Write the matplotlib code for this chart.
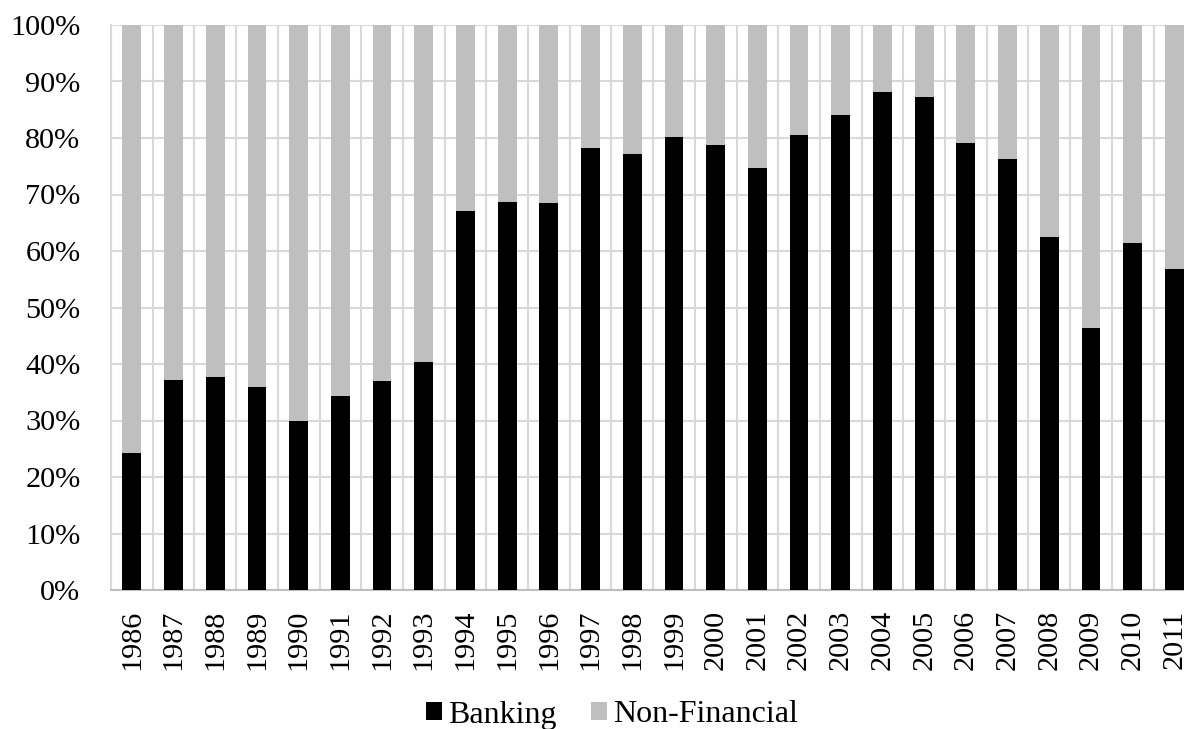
import matplotlib
matplotlib.use("Agg")
import matplotlib.pyplot as plt
import numpy as np
from matplotlib.ticker import FixedLocator, PercentFormatter

years = [str(y) for y in range(1986, 2012)]
banking = [24.2, 37.2, 37.7, 35.9, 30.0, 34.3, 37.0, 40.4, 67.0, 68.7, 68.5, 78.2, 77.1,
           80.2, 78.8, 74.7, 80.5, 84.0, 88.1, 87.2, 79.2, 76.2, 62.4, 46.4, 61.4, 56.8]
non_financial = [100 - b for b in banking]

plt.rcParams['font.family'] = ['Liberation Serif', 'DejaVu Serif']

W, H = 1184, 729
fig = plt.figure(figsize=(W / 100, H / 100), dpi=100)
left, right_px, top, bottom = 111, 111 + 26 * 41.7, 25, 590
ax = fig.add_axes([left / W, (H - bottom) / H, (right_px - left) / W, (bottom - top) / H])

x = np.arange(len(years))
bw = 0.45
ax.bar(x, banking, bw, color='black', label='Banking', zorder=3)
ax.bar(x, non_financial, bw, bottom=banking, color='#bfbfbf', label='Non-Financial', zorder=3)

ax.set_xlim(-0.5, len(years) - 0.5)
ax.set_ylim(0, 100)
ax.set_yticks(np.arange(0, 101, 10))
ax.yaxis.set_major_formatter(PercentFormatter(decimals=0))
ax.set_xticks(x)
ax.set_xticklabels(years, rotation=90)
ax.xaxis.set_minor_locator(FixedLocator(np.arange(-0.5, len(years), 1.0)))
ax.grid(axis='y', which='major', color='#d9d9d9', linewidth=1.5, zorder=0)
ax.grid(axis='x', which='minor', color='#d9d9d9', linewidth=1.5, zorder=0)
ax.grid(axis='x', which='major', visible=False)
ax.tick_params(axis='both', which='both', length=0, labelsize=21.8)
ax.tick_params(axis='y', pad=22)
ax.tick_params(axis='x', pad=14)
for s in ['top', 'right']:
    ax.spines[s].set_visible(False)
ax.spines['left'].set_color('#d9d9d9')
ax.spines['left'].set_linewidth(1.5)
ax.spines['bottom'].set_color('#bfbfbf')
ax.spines['bottom'].set_linewidth(1.5)

fig.legend(loc='center', bbox_to_anchor=(612 / W, 14 / H), ncol=2, frameon=False,
           fontsize=23, handlelength=0.5, handleheight=0.5, handletextpad=0.22,
           columnspacing=1.05, borderpad=0)

fig.savefig('out.png', dpi=100)
